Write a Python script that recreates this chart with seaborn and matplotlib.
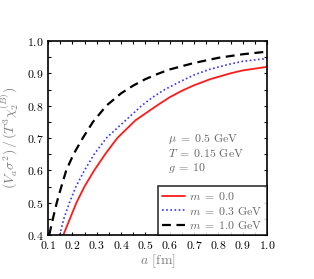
import numpy as np
import pandas as pd
import matplotlib
matplotlib.use('Agg')
import matplotlib.pyplot as plt
import seaborn as sns
from matplotlib.ticker import MultipleLocator

# ---------- dados ----------
a_m00 = [0.163, 0.19, 0.217, 0.25, 0.29, 0.335, 0.385, 0.46, 0.547, 0.60, 0.65, 0.70, 0.767, 0.85, 0.90, 1.00]
r_m00 = [0.40, 0.45, 0.50, 0.55, 0.60, 0.65, 0.70, 0.755, 0.80, 0.826, 0.846, 0.863, 0.882, 0.90, 0.909, 0.92]

a_m03 = [0.148, 0.165, 0.188, 0.215, 0.25, 0.29, 0.34, 0.405, 0.485, 0.53, 0.58, 0.65, 0.70, 0.767, 0.85, 0.90, 1.00]
r_m03 = [0.40, 0.45, 0.50, 0.55, 0.60, 0.65, 0.70, 0.745, 0.80, 0.826, 0.85, 0.877, 0.895, 0.913, 0.929, 0.937, 0.946]

a_m10 = [0.105, 0.12, 0.136, 0.155, 0.175, 0.205, 0.243, 0.285, 0.34, 0.40, 0.45, 0.50, 0.55, 0.60, 0.70, 0.80, 0.90, 1.00]
r_m10 = [0.40, 0.45, 0.50, 0.55, 0.60, 0.65, 0.70, 0.75, 0.80, 0.838, 0.862, 0.882, 0.898, 0.912, 0.932, 0.948, 0.959, 0.967]

rotulos = [r'$m \;=\; 0.0$', r'$m \;=\; 0.3$ GeV', r'$m \;=\; 1.0$ GeV']
params = [r'$\mu \;=\; 0.5$ GeV', r'$T \;=\; 0.15$ GeV', r'$g \;=\; 10$']

# ---------- estilo ----------
sns.set_theme(style='ticks')
plt.rcParams['font.family'] = ['cmr10', 'DejaVu Serif']
plt.rcParams['mathtext.fontset'] = 'cm'
plt.rcParams['axes.formatter.use_mathtext'] = True

fig = plt.figure(figsize=(3.14, 2.79), dpi=100)
ax = fig.add_axes([48 / 314, 44 / 279, 219 / 314, 194 / 279])

sns.lineplot(x=a_m00, y=r_m00, ax=ax, color='#ff1a1a', lw=1.3, label=rotulos[0])
sns.lineplot(x=a_m03, y=r_m03, ax=ax, color='#3333ff', lw=1.2, ls=(0, (1, 1.5)), label=rotulos[1])
sns.lineplot(x=a_m10, y=r_m10, ax=ax, color='black', lw=1.6, ls=(0, (4, 2.5)), label=rotulos[2])

ax.set_xlim(0.1, 1.0)
ax.set_ylim(0.4, 1.0)
ax.xaxis.set_major_locator(MultipleLocator(0.1))
ax.xaxis.set_minor_locator(MultipleLocator(0.05))
ax.yaxis.set_major_locator(MultipleLocator(0.1))
ax.yaxis.set_minor_locator(MultipleLocator(0.05))
ax.tick_params(which='both', direction='in', top=True, right=True, length=2, width=0.8,
               labelsize=8.5, pad=3, colors='black')
for s in ax.spines.values():
    s.set_linewidth(1.2)
    s.set_color('black')

ax.set_xlabel(r'$a$ [fm]', color='#808080', fontsize=10, labelpad=1)
ax.set_ylabel(r'$(V_a\sigma^2)\,/\,(T^3\chi_2^{(B)})$', color='#808080', fontsize=10, labelpad=4)

for i, txt in enumerate(params):
    ax.text(0.55, 0.478 - i * 0.074, txt, transform=ax.transAxes, fontsize=8.5,
            color='#666666', va='baseline', ha='left')

leg = ax.legend(loc='lower right', fontsize=8.5, frameon=True, fancybox=False,
                borderaxespad=0, handlelength=1.9, handletextpad=0.4,
                labelspacing=0.2, borderpad=0.35)
leg.get_frame().set_edgecolor('black')
leg.get_frame().set_linewidth(1.2)
for t in leg.get_texts():
    t.set_color('#666666')

plt.savefig('out.png', dpi=100)
plt.close()
